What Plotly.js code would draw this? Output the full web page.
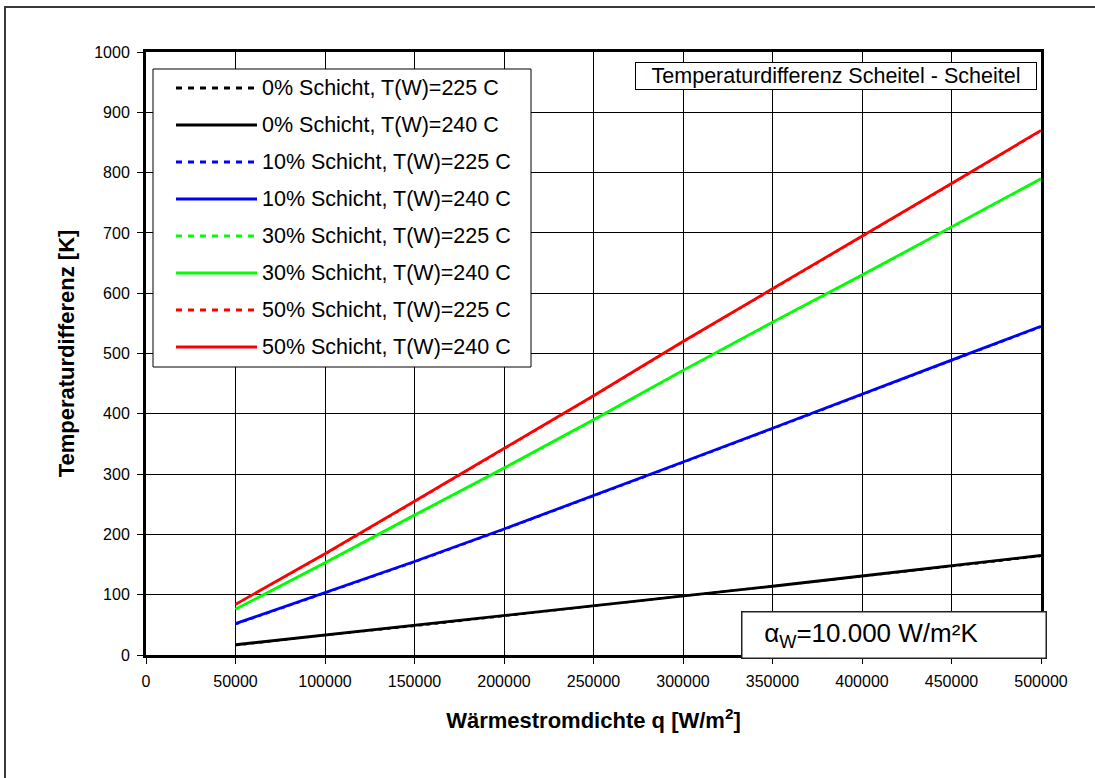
<!DOCTYPE html>
<html>
<head>
<meta charset="utf-8">
<script src="https://cdn.plot.ly/plotly-3.0.1.min.js"></script>
<style>
  html, body { margin: 0; padding: 0; background: #fff; overflow: hidden; }
  #wrap { position: relative; width: 1095px; height: 778px; }
  #chart { width: 1095px; height: 778px; }
  /* outer frame of the chart sheet (left and top edges fall inside the page) */
  #frame {
    position: absolute; left: 4px; top: 6px; width: 1200px; height: 900px;
    border-left: 2px solid #3a3a3a; border-top: 2px solid #3a3a3a;
    pointer-events: none;
  }
</style>
</head>
<body>
<div id="wrap">
  <div id="chart"></div>
  <div id="frame"></div>
</div>
<script>
// Heat flux density q [W/m²]
const heatFlux = [50000, 100000, 150000, 200000, 250000, 300000, 350000, 400000, 450000, 500000];

// Temperature difference crest - crest [K], wall temperature 240 C
const dT_0_240  = [17, 33, 49, 65, 82, 98, 114, 131, 148, 165];
const dT_10_240 = [52, 103, 155, 209, 264, 320, 376, 433, 489, 545];
const dT_30_240 = [76, 153, 232, 310, 390, 472, 552, 630, 710, 790];
const dT_50_240 = [84, 168, 255, 342, 430, 520, 607, 695, 782, 870];

// Same layer fractions, wall temperature 225 C
const dT_0_225  = [16, 33, 48, 65, 81, 98, 114, 130, 147, 164];
const dT_10_225 = [51, 103, 154, 208, 263, 319, 375, 432, 488, 544];
const dT_30_225 = [76, 152, 231, 309, 389, 471, 551, 629, 709, 789];
const dT_50_225 = [84, 167, 254, 341, 429, 519, 606, 694, 781, 869];

const seriesNames = [
  "0% Schicht, T(W)=225 C", "0% Schicht, T(W)=240 C",
  "10% Schicht, T(W)=225 C", "10% Schicht, T(W)=240 C",
  "30% Schicht, T(W)=225 C", "30% Schicht, T(W)=240 C",
  "50% Schicht, T(W)=225 C", "50% Schicht, T(W)=240 C"
];
const seriesValues = [dT_0_225, dT_0_240, dT_10_225, dT_10_240, dT_30_225, dT_30_240, dT_50_225, dT_50_240];
const seriesColors = ["#000000", "#000000", "#0000ff", "#0000ff", "#00ff00", "#00ff00", "#ff0000", "#ff0000"];
const seriesDashed = [true, false, true, false, true, false, true, false];

const xTickVals = [0, 50000, 100000, 150000, 200000, 250000, 300000, 350000, 400000, 450000, 500000];
const yTickVals = [0, 100, 200, 300, 400, 500, 600, 700, 800, 900, 1000];

const FONT = "Liberation Sans, Arial, Helvetica, sans-serif";

// plot-area geometry in pixels, used to place the hand-drawn legend and boxes
const M = { l: 146, r: 54, t: 52, b: 123 };
const W = 1095, H = 778;
const PW = W - M.l - M.r, PH = H - M.t - M.b;
const px = v => (v - M.l) / PW;
const py = v => (H - M.b - v) / PH;

// solid lines first, dashed (225 C) drawn on top
const order = [1, 3, 5, 7, 0, 2, 4, 6];
const traces = order.map(i => ({
  type: "scatter",
  mode: "lines",
  x: heatFlux,
  y: seriesValues[i],
  name: seriesNames[i],
  showlegend: false,
  line: {
    color: seriesColors[i],
    width: seriesDashed[i] ? 2 : 2.8,
    dash: seriesDashed[i] ? "4px,4px" : "solid"
  },
  hoverinfo: "x+y+name"
}));

const shapes = [];
const annotations = [];

// legend box
shapes.push({
  type: "rect", xref: "paper", yref: "paper", layer: "above",
  x0: px(153), x1: px(531), y0: py(367), y1: py(69),
  line: { color: "#000", width: 1 }, fillcolor: "#ffffff"
});
const rowY0 = 88, rowStep = 37;
seriesNames.forEach((name, i) => {
  const yy = py(rowY0 + i * rowStep);
  shapes.push({
    type: "line", xref: "paper", yref: "paper", layer: "above",
    x0: px(176), x1: px(257), y0: yy, y1: yy,
    line: {
      color: seriesColors[i],
      width: 3,
      dash: seriesDashed[i] ? "6px,6px" : "solid"
    }
  });
  annotations.push({
    xref: "paper", yref: "paper", x: px(260), y: yy,
    xanchor: "left", yanchor: "middle", showarrow: false,
    text: name, font: { family: FONT, size: 21.5, color: "#000" }
  });
});

// title box, top right
annotations.push({
  xref: "paper", yref: "paper", x: px(836), y: py(76),
  xanchor: "center", yanchor: "middle", showarrow: false,
  text: "Temperaturdifferenz Scheitel - Scheitel",
  font: { family: FONT, size: 21.5, color: "#000" },
  bgcolor: "#ffffff", bordercolor: "#000", borderwidth: 1, borderpad: 0,
  width: 400, height: 26
});

// heat transfer coefficient box, bottom right
annotations.push({
  xref: "paper", yref: "paper", x: px(894), y: py(635),
  xanchor: "center", yanchor: "middle", showarrow: false,
  text: "&nbsp;&nbsp;&nbsp;α<sub>W</sub>=10.000 W/m²K",
  align: "left",
  font: { family: FONT, size: 26, color: "#000" },
  bgcolor: "#ffffff", bordercolor: "#222", borderwidth: 1.5, borderpad: 0,
  width: 303, height: 45
});

const layout = {
  width: W, height: H,
  margin: M,
  paper_bgcolor: "#ffffff",
  plot_bgcolor: "#ffffff",
  showlegend: false,
  font: { family: FONT, color: "#000" },
  xaxis: {
    range: [0, 500000],
    tickvals: xTickVals,
    ticktext: xTickVals.map(String),
    ticks: "outside", ticklen: 6, tickcolor: "#000", tickwidth: 1,
    ticklabelstandoff: 4,
    tickfont: { family: FONT, size: 16, color: "#000" },
    showgrid: true, gridcolor: "#000", gridwidth: 1,
    zeroline: false,
    showline: true, linecolor: "#000", linewidth: 3, mirror: true,
    title: {
      text: "<b>Wärmestromdichte q [W/m<sup>2</sup>]</b>",
      font: { family: FONT, size: 22, color: "#000" },
      standoff: 24
    }
  },
  yaxis: {
    range: [0, 1000],
    tickvals: yTickVals,
    ticktext: yTickVals.map(String),
    ticks: "outside", ticklen: 6, tickcolor: "#000", tickwidth: 1,
    ticklabelstandoff: 4,
    tickfont: { family: FONT, size: 16, color: "#000" },
    showgrid: true, gridcolor: "#000", gridwidth: 1,
    zeroline: false,
    showline: true, linecolor: "#000", linewidth: 3, mirror: true,
    title: {
      text: "<b>Temperaturdifferenz [K]</b>",
      font: { family: FONT, size: 22, color: "#000" },
      standoff: 14
    }
  },
  shapes: shapes,
  annotations: annotations
};

Plotly.newPlot("chart", traces, layout, { displayModeBar: false, staticPlot: true });
</script>
</body>
</html>
